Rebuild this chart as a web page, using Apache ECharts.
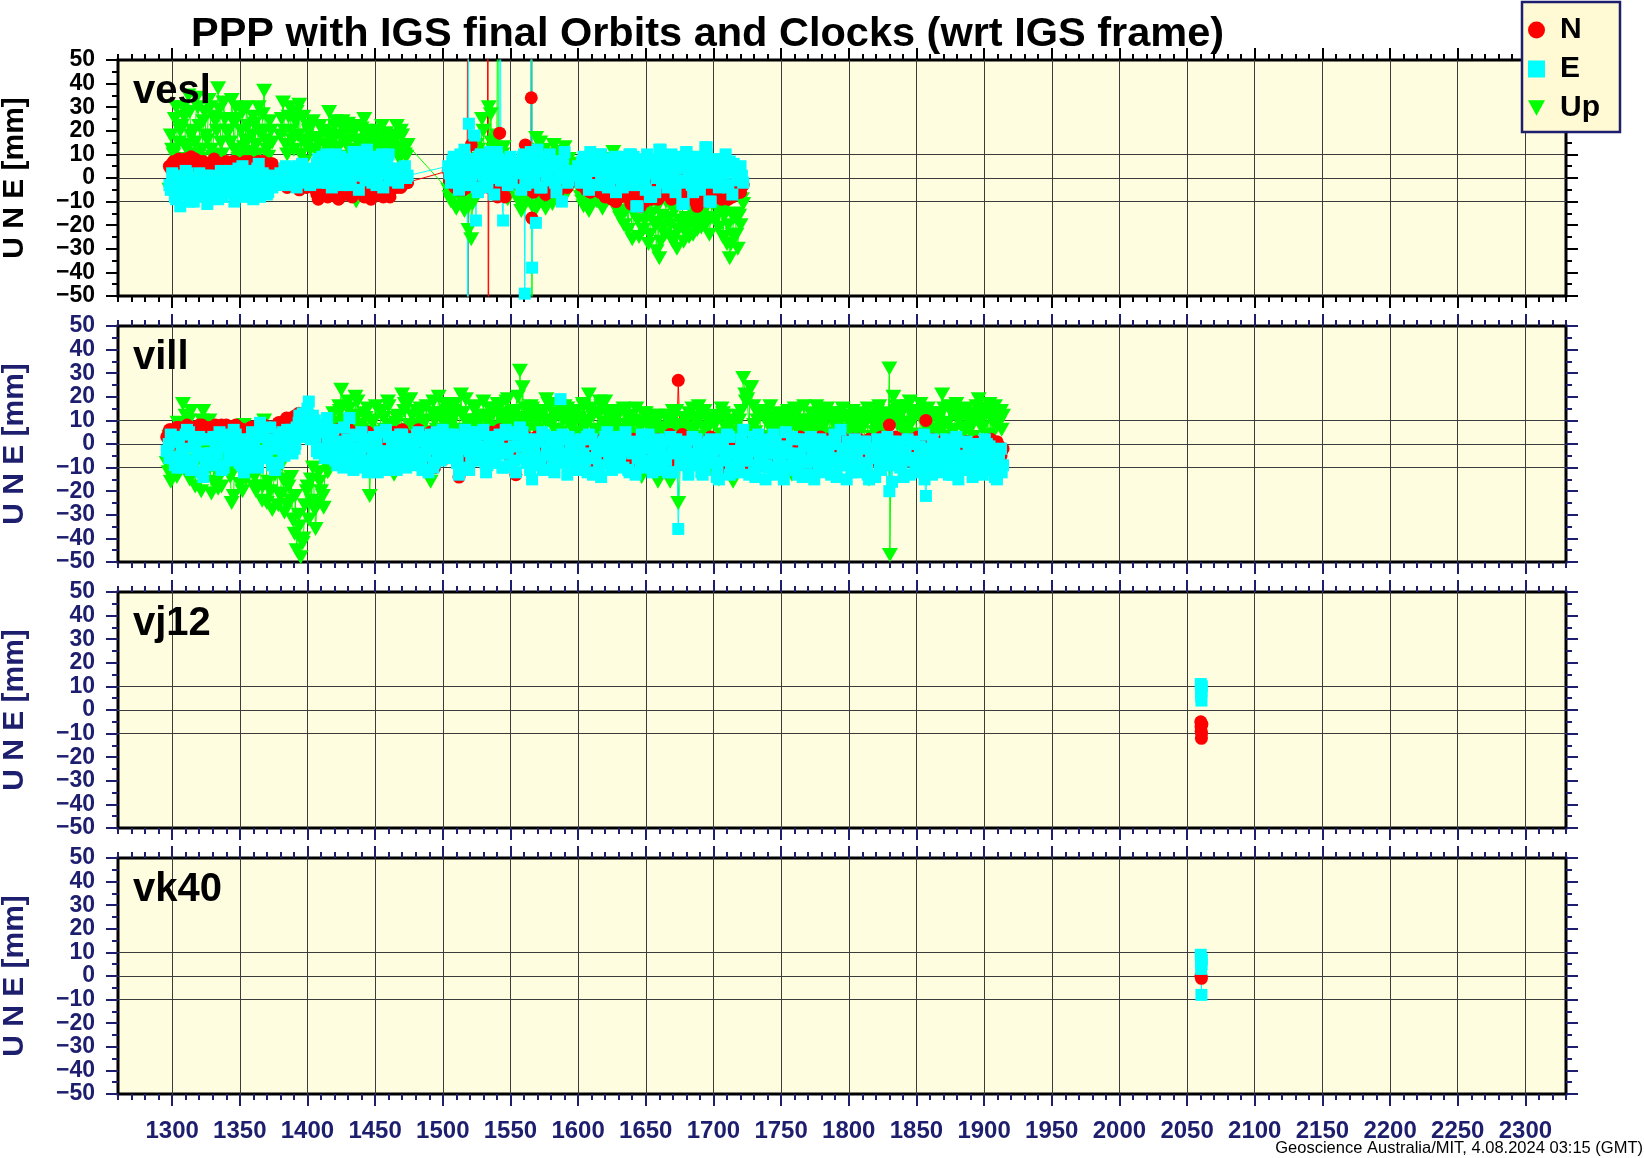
<!DOCTYPE html>
<html><head><meta charset="utf-8">
<script src="https://cdn.jsdelivr.net/npm/echarts@6/dist/echarts.min.js"></script>
<style>html,body{margin:0;padding:0;background:#fff}#c{width:1644px;height:1158px}</style>
</head><body><div id="c"></div>
<script>
// ---------- tick labels ----------
const xTicks = [1300,1350,1400,1450,1500,1550,1600,1650,1700,1750,1800,1850,1900,1950,2000,2050,2100,2150,2200,2250,2300];
const yGridLines = [-10, 0, 10];
const stationNames = ['vesl', 'vill', 'vj12', 'vk40'];

// ---------- vesl (set 1, even weeks) ----------
const veslWeeks = [
 1298,1300,1302,1304,1306,1308,1310,1312,1314,1316,1318,1320,1322,1324,1326,1328,1330,1332,1334,1336,1338,1340,
 1342,1344,1346,1348,1350,1352,1354,1356,1358,1360,1362,1364,1366,1368,1370,1372,1374,
 1380,1382,1384,1386,1388,1390,1392,1394,1396,1398,1400,1402,1404,
 1406,1408,1410,1412,1414,1416,1418,1420,1422,1424,1426,1428,1430,1432,1434,1436,1438,1440,1442,1444,1446,1448,1450,1452,1454,1456,1458,1460,1462,
 1464,1466,1468,1470,1472,1474,
 1504,1506,1508,1510,1512,1514,1516,1518,1520,1522,1524,1526,1528,1530,1532,1534,1536,1538,1540,1542,1544,1546,1548,1550,1552,
 1556,1558,1560,1562,1564,1566,1568,1570,1572,1574,1576,1578,1580,1582,1584,1586,1588,1590,1592,1594,
 1600,1602,1604,1606,1608,1610,1612,1614,1616,1618,1620,1622,1624,1626,1628,1630,1632,1634,1636,1638,
 1640,1642,1644,1646,1648,1650,1652,1654,1656,1658,1660,1662,1664,1666,1668,1670,1672,1674,1676,1678,
 1680,1682,1684,1686,1688,1690,1692,1694,1696,1698,1700,1702,1704,1706,1708,1710,1712,1714,1716,1718,1720,1722
];
const veslN = [
 5,6,3,7,4,6,8,5,9,6,4,7,5,6,3,6,5,7,4,6,5,7,
 6,4,7,5,3,6,7,4,5,6,3,7,5,4,6,5,6,
 3,1,-2,2,0,-3,1,-5,-1,2,-2,0,-4,
 -5,-9,-3,-6,-2,-4,-7,-3,-8,-5,-2,-6,-7,-4,-3,-5,-6,-2,-8,-4,-6,-3,-5,-7,-4,-8,-6,-3,-5,
 -2,-4,0,-3,-1,-2,
 3,0,-3,2,-5,-2,1,-4,0,2,-3,-1,1,-2,3,-4,0,2,-1,-3,1,-8,0,2,-2,
 2,-3,0,4,-5,1,-2,3,-4,0,-7,2,-1,-3,1,-5,0,-2,-4,-1,
 1,-3,2,-5,-1,-4,0,-3,-6,-2,-8,-4,-1,-7,-10,-3,-6,-2,-8,-5,
 -3,-9,-6,-12,-4,-7,-2,-9,-5,-3,-8,-4,-6,-2,-7,-3,-5,-8,-1,-6,
 -4,-7,-2,-8,-12,-5,-3,-7,-4,-6,-8,-3,-6,-9,-4,-7,-3,-8,-5,-2,-6,-3
];
const veslE = [
 -3,2,-8,0,-12,-4,3,-6,-1,-10,-2,2,-7,-3,-11,1,-5,-2,-9,3,-4,-6,
 3,-6,-10,0,-4,5,-8,-2,2,-9,-3,6,-5,1,-7,-1,-4,
 2,-3,5,0,-2,4,-4,1,6,-1,3,-3,2,
 3,8,-2,5,10,0,-4,6,2,9,-3,4,7,-1,11,3,-5,8,1,12,5,-2,9,0,6,-4,3,10,2,
 2,-1,4,0,5,1,
 5,-2,9,2,-5,6,12,0,-3,8,3,-6,10,1,-4,7,4,-7,11,2,-1,6,-3,9,3,
 6,-5,10,2,-2,8,0,12,-4,5,3,9,-1,7,-6,4,-10,11,-2,1,
 5,-2,9,1,-5,7,3,-3,10,0,6,-4,8,2,-6,5,-1,9,3,10,
 -3,6,-12,1,8,-5,4,-8,7,0,12,-2,5,-4,8,2,-6,6,-1,-11,
 11,3,-3,7,0,-5,5,13,-2,-10,6,1,-4,8,2,-3,7,-7,3,0,5,-2
];
const veslU = [
 -5,12,25,8,20,30,14,35,18,10,34,22,12,28,16,30,9,24,38,15,32,20,
 20,33,12,25,10,28,16,22,8,26,14,30,18,37,12,24,15,
 18,32,14,26,20,12,28,31,16,7,22,12,24,
 12,17,10,20,14,28,15,22,12,18,24,16,23,11,20,-10,14,21,25,15,18,-8,12,20,16,11,19,13,18,
 12,22,8,18,10,14,
 -5,-10,-3,-13,-7,-2,-14,-8,-4,-11,5,12,-2,20,8,-4,15,3,18,-6,10,2,-9,6,0,
 -10,-14,-6,12,-3,-12,8,-8,15,-5,-13,10,-2,14,-9,5,-4,13,-1,6,
 -2,-8,-12,-4,-14,-6,-1,-10,-3,-13,-5,-9,8,11,-4,-15,-7,-20,-10,-3,
 -26,-12,-18,-6,-22,-14,-28,-9,-19,-31,-34,-16,-24,-8,-20,-27,-13,-22,-5,-27,
 -17,-25,-10,-19,-22,-6,-14,-20,-9,-17,-4,-12,-21,-8,-16,-28,-34,-24,-15,-30,-20,-11
];
// ---------- vesl (set 2, odd weeks) ----------
const veslWeeks2 = [
 1299,1301,1303,1305,1307,1309,1311,1313,1315,1317,1319,1321,1323,1325,1327,1329,1331,1333,1335,1337,1339,
 1343,1345,1347,1349,1351,1353,1355,1357,1359,1361,1363,1365,1367,1369,1371,1373,
 1381,1383,1385,1387,1389,1391,1393,1395,1397,1399,1401,1403,
 1407,1409,1411,1413,1415,1417,1419,1421,1423,1425,1427,1429,1431,1433,1435,1437,1439,1441,1443,1445,1447,1449,1451,1453,1455,1457,1459,1461,1463,
 1465,1467,1469,1471,1473,
 1505,1507,1509,1511,1513,1515,1517,1519,1521,1523,1525,1527,1529,1531,1533,1535,1537,1539,1541,1543,1545,1547,1549,1551,
 1557,1559,1561,1563,1565,1567,1569,1571,1573,1575,1577,1579,1581,1583,1585,1587,1589,1591,1593,
 1601,1603,1605,1607,1609,1611,1613,1615,1617,1619,1621,1623,1625,1627,1629,1631,1633,1635,1637,1639,
 1641,1643,1645,1647,1649,1651,1653,1655,1657,1659,1661,1663,1665,1667,1669,1671,1673,1675,1677,1679,
 1681,1683,1685,1687,1689,1691,1693,1695,1697,1699,1701,1703,1705,1707,1709,1711,1713,1715,1717,1719,1721
];
const veslN2 = [
 4,7,5,8,3,6,7,4,6,8,5,3,7,5,6,4,8,5,6,4,6,
 5,7,3,6,5,4,6,7,3,5,6,4,7,5,3,6,
 0,2,-4,1,-2,3,-1,-3,1,-4,2,-2,
 -7,-4,-6,-2,-8,-5,-3,-6,-9,-4,-7,-3,-5,-8,-2,-6,-4,-7,-3,-5,-9,-4,-6,-2,-7,-5,-3,-8,-4,
 -3,-1,-4,0,-2,
 -1,2,-4,1,-2,-5,3,-1,1,-3,0,2,-4,-1,2,-2,1,-3,0,-5,2,-1,-3,1,
 -1,3,-4,2,-2,-6,1,-3,2,-1,-4,0,3,-2,-5,1,-3,0,-2,
 -2,1,-4,-1,-6,-2,-4,1,-5,-3,-6,-2,-9,-4,-5,-8,-1,-7,-3,-11,
 -6,-4,-8,-2,-10,-5,-7,-3,-6,-9,-4,-7,-3,-5,-9,-2,-6,-4,-8,-3,
 -5,-9,-6,-3,-7,-4,-10,-5,-2,-7,-5,-8,-4,-6,-2,-9,-5,-7,-4,-6,-3
];
const veslE2 = [
 -5,0,-9,1,-3,-7,2,-10,-2,-5,0,-8,-4,1,-9,-1,-6,0,-3,-8,-1,
 -2,1,-7,4,-5,-1,3,-6,0,-3,4,-8,2,-2,-6,1,
 -1,4,1,-3,3,0,5,-2,2,-1,4,0,
 6,1,9,3,-2,7,4,10,0,5,8,2,-3,6,9,1,4,11,-1,7,3,8,-3,5,10,2,6,-1,4,
 3,-2,1,4,0,
 2,7,-1,4,10,-3,3,8,1,6,-4,9,2,5,-2,11,0,4,8,-1,6,1,7,-2,
 2,9,-3,5,11,-1,6,3,-4,8,1,10,4,-2,7,0,6,3,-1,
 2,7,-1,4,11,3,-3,6,1,8,3,-2,5,9,0,7,-4,4,6,1,
 9,-3,3,6,-1,10,2,5,-6,8,3,-1,7,1,10,-3,4,9,-2,5,
 7,1,-6,9,3,-1,5,10,0,4,8,-1,5,2,10,-4,3,6,-1,4,1
];
const veslU2 = [
 18,10,30,15,22,26,12,28,20,15,30,8,24,18,33,12,26,20,29,10,25,
 15,24,30,8,20,13,30,11,18,23,10,20,27,16,9,20,
 25,20,10,30,16,24,18,10,26,14,20,17,
 16,22,8,14,19,11,17,24,13,9,20,15,12,18,22,8,16,13,20,11,15,19,9,14,22,12,17,10,15,
 16,10,20,13,9,
 -8,-2,-12,-6,-3,-9,-5,-12,0,3,14,8,25,4,10,-2,12,16,6,-4,13,-7,3,-5,
 -6,-11,2,-8,10,-4,-13,5,-9,12,-3,7,-11,9,-6,11,2,-7,8,
 -5,-10,-3,-12,-7,-9,-2,-6,-11,-8,4,-2,-10,-12,-8,-17,-5,-14,-22,-12,
 -15,-8,-25,-11,-18,-7,-24,-15,-20,-12,-27,-21,-10,-17,-25,-14,-30,-18,-11,-23,
 -20,-13,-24,-16,-8,-21,-17,-12,-24,-11,-18,-7,-14,-25,-12,-20,-28,-17,-24,-16,-9
];
// off-scale / isolated points [week, mm]
const veslSpikeN = [[1518.6,150],[1518.8,-150],[1521,14],[1533.4,150],[1533.6,-150],[1540.5,-8],[1542,19],[1561,14],[1565.4,34],[1565.6,150],[1565.8,-17],[1677,9]];
const veslSpikeE = [[1518.7,-150],[1518.9,150],[1519.3,23],[1523.5,18],[1524.5,-18],[1542.4,150],[1544.6,-18],[1560.6,-49],[1565.6,150],[1566.0,-38],[1568.8,-19],[1617,10],[1639,10],[1643,-12],[1653,-8],[1661,12],[1677,-11],[1680,11],[1695,13],[1697,-10]];
const veslSpikeU = [[1519,-22],[1521,-26],[1534,30],[1535.5,27],[1540.8,120],[1565.7,150],[1565.9,-150],[1569,17]];

// ---------- vill (set 1) ----------
const villWeeks = [
 1296,1299,1302,1305,1308,1311,1314,1317,1320,1323,
 1326,1329,1332,1335,1338,1341,1344,1347,1350,1353,
 1356,1359,1362,1365,1368,1371,1374,1377,1380,1383,
 1386,1389,1392,1395,1398,1401,1404,1407,1410,1413,
 1416,1419,1422,1425,1428,1431,1434,1437,1440,1443,
 1446,1449,1452,1455,1458,1461,1464,1467,1470,1473,
 1476,1479,1482,1485,1488,1491,1494,1497,1500,1503,
 1506,1509,1512,1515,1518,1521,1524,1527,1530,1533,
 1536,1539,1542,1545,1548,1551,1554,1557,1560,1563,
 1566,1569,1572,1575,1578,1581,1584,1587,1590,1593,
 1596,1599,1602,1605,1608,1611,1614,1617,1620,1623,
 1626,1629,1632,1635,1638,1641,1644,1647,1650,1653,
 1656,1659,1662,1665,1668,1671,1674,1677,1680,1683,
 1686,1689,1692,1695,1698,1701,1704,1707,1710,1713,
 1716,1719,1722,1725,1728,1731,1734,1737,1740,1743,
 1746,1749,1752,1755,1758,1761,1764,1767,1770,1773,
 1776,1779,1782,1785,1788,1791,1794,1797,1800,1803,
 1806,1809,1812,1815,1818,1821,1824,1827,1830,1833,
 1836,1839,1842,1845,1848,1851,1854,1857,1860,1863,
 1866,1869,1872,1875,1878,1881,1884,1887,1890,1893,
 1896,1899,1902,1905,1908,1911,1914
];
const villN = [
 3,6,0,7,4,8,2,6,8,5,
 6,3,8,5,7,2,6,8,4,6,
 5,7,3,6,8,4,7,5,9,6,
 10,7,12,9,13,10,6,8,4,2,
 4,-2,6,1,-4,6,0,-6,3,-3,
 -5,2,-8,4,-1,-6,5,-3,6,0,
 3,-2,6,-9,0,5,-10,2,-4,4,
 2,-3,-14,4,-2,1,-6,3,-1,-4,
 5,-4,6,5,-1,4,-13,2,-3,1,
 0,3,-5,2,-2,-8,1,-1,-6,2,
 -3,-7,1,-9,3,-2,-10,-4,0,2,
 -1,-6,3,-3,-9,2,-5,0,-8,1,
 -2,2,-7,0,4,-5,27,4,-3,-9,
 -4,1,-8,-2,3,-6,-1,2,-10,-5,
 -10,-9,-2,-11,1,-6,-3,2,-8,-4,
 0,-5,-3,2,-7,-1,3,-4,-9,1,
 -2,3,-6,-2,1,-4,4,-1,-7,2,
 -3,1,-8,2,-4,-1,3,-6,8,-2,
 -1,2,-5,0,-2,3,-6,10,-3,1,
 -2,0,-5,2,-3,0,-6,1,-2,-4,
 0,1,-3,2,-5,-1,-2
];
const villE = [
 -3,4,-9,1,-6,6,-11,-1,3,-14,
 2,-7,-2,5,-10,0,-5,4,-8,-12,
 -1,5,-6,9,-3,2,-9,0,4,-5,
 1,-4,7,3,10,18,12,-3,8,-6,
 -2,6,-9,0,-4,11,-11,-6,5,-1,
 -7,3,-12,-3,6,-8,1,-5,4,-10,
 2,-6,5,-11,-2,4,-8,0,6,-4,
 -3,3,-13,-1,5,-7,2,-4,6,-9,
 1,-6,4,-10,-2,5,-12,7,0,-5,
 -15,2,-7,4,-3,-10,1,19,-4,3,
 -5,-11,2,-7,4,-13,-2,-14,3,-6,
 2,-9,-3,5,-12,-1,-6,4,-10,1,
 -4,2,-11,-7,3,-3,-36,-8,1,-5,
 -9,0,-13,-4,2,-8,-15,-2,4,-10,
 -3,-12,6,-7,0,-14,-5,2,-10,-2,
 1,-8,-15,-4,3,-11,-6,-1,-13,-3,
 -7,2,-12,-5,0,-14,6,-3,-9,-1,
 -4,-10,1,-15,-6,2,-11,-3,-20,1,
 1,-8,-4,-13,0,-6,-11,-22,-2,-9,
 -4,-12,2,-8,-1,-15,-5,1,-11,-6,
 -3,-13,0,-8,-14,-4,-9
];
const villU = [
 -8,-16,5,-12,17,-4,14,-18,0,14,
 -6,-21,3,-14,-9,6,-25,-3,-17,8,
 -12,2,-20,-7,10,-16,-28,-4,-22,-29,
 -18,-32,-45,-48,-26,-32,-10,-25,-20,-8,
 -11,13,4,23,8,15,-2,18,6,11,
 -22,10,2,14,-5,8,-13,12,21,4,
 19,7,12,-1,16,-16,10,20,4,14,
 8,17,3,13,0,10,15,5,18,9,
 12,4,16,8,19,2,14,31,10,6,
 15,6,11,1,17,9,13,5,16,10,
 8,14,2,7,21,12,4,16,18,9,
 5,12,0,14,7,10,-3,-14,13,6,
 9,-16,4,12,-16,7,-25,2,10,5,
 6,16,1,11,-1,8,-15,13,3,9,
 3,10,28,19,24,5,12,1,14,8,
 6,11,2,14,-13,9,4,16,-13,7,
 16,5,10,2,13,7,11,0,9,14,
 4,12,1,-15,9,14,6,10,32,20,
 8,13,4,18,11,2,14,7,12,5,
 10,21,3,14,6,12,1,15,8,11,
 19,7,13,3,16,9,12
];
// ---------- vill (set 2) ----------
const villWeeks2 = [
 1297.5,1300.5,1303.5,1306.5,1309.5,1312.5,1315.5,1318.5,1321.5,1324.5,
 1327.5,1330.5,1333.5,1336.5,1339.5,1342.5,1345.5,1348.5,1351.5,1354.5,
 1357.5,1360.5,1363.5,1366.5,1369.5,1372.5,1375.5,1378.5,1381.5,1384.5,
 1387.5,1390.5,1393.5,1396.5,1399.5,1402.5,1405.5,1408.5,1411.5,1414.5,
 1417.5,1420.5,1423.5,1426.5,1429.5,1432.5,1435.5,1438.5,1441.5,1444.5,
 1447.5,1450.5,1453.5,1456.5,1459.5,1462.5,1465.5,1468.5,1471.5,1474.5,
 1477.5,1480.5,1483.5,1486.5,1489.5,1492.5,1495.5,1498.5,1501.5,1504.5,
 1507.5,1510.5,1513.5,1516.5,1519.5,1522.5,1525.5,1528.5,1531.5,1534.5,
 1537.5,1540.5,1543.5,1546.5,1549.5,1552.5,1555.5,1558.5,1561.5,1564.5,
 1567.5,1570.5,1573.5,1576.5,1579.5,1582.5,1585.5,1588.5,1591.5,1594.5,
 1597.5,1600.5,1603.5,1606.5,1609.5,1612.5,1615.5,1618.5,1621.5,1624.5,
 1627.5,1630.5,1633.5,1636.5,1639.5,1642.5,1645.5,1648.5,1651.5,1654.5,
 1657.5,1660.5,1663.5,1666.5,1669.5,1672.5,1675.5,1678.5,1681.5,1684.5,
 1687.5,1690.5,1693.5,1696.5,1699.5,1702.5,1705.5,1708.5,1711.5,1714.5,
 1717.5,1720.5,1723.5,1726.5,1729.5,1732.5,1735.5,1738.5,1741.5,1744.5,
 1747.5,1750.5,1753.5,1756.5,1759.5,1762.5,1765.5,1768.5,1771.5,1774.5,
 1777.5,1780.5,1783.5,1786.5,1789.5,1792.5,1795.5,1798.5,1801.5,1804.5,
 1807.5,1810.5,1813.5,1816.5,1819.5,1822.5,1825.5,1828.5,1831.5,1834.5,
 1837.5,1840.5,1843.5,1846.5,1849.5,1852.5,1855.5,1858.5,1861.5,1864.5,
 1867.5,1870.5,1873.5,1876.5,1879.5,1882.5,1885.5,1888.5,1891.5,1894.5,
 1897.5,1900.5,1903.5,1906.5,1909.5,1912.5
];
const villN2 = [
 5,4,7,3,6,5,7,4,6,7,
 7,5,4,8,6,3,7,5,6,4,
 6,4,8,5,7,3,6,9,7,11,
 11,8,13,10,7,9,5,3,6,1,
 2,-5,4,-1,-3,3,-6,1,-2,5,
 -2,-7,1,-4,3,-8,0,-5,2,-3,
 -4,1,-6,3,-1,-7,2,-3,0,-5,
 -2,1,-5,3,-8,0,4,-4,2,-6,
 3,-2,5,1,-4,2,-6,0,3,-3,
 -3,1,4,-6,0,2,-4,3,-1,-7,
 0,-4,2,-6,-1,1,-5,2,-3,-8,
 -4,1,-6,2,-2,-7,0,-3,2,-5,
 0,-3,1,-6,2,-4,-1,1,-5,-2,
 0,-5,-2,2,-7,-3,1,-6,-10,-1,
 -9,-5,-10,-3,-7,0,-5,-2,1,-6,
 -3,1,-6,-2,2,-5,-1,-8,0,-3,
 1,-4,2,-6,-1,3,-5,0,-2,-7,
 2,-5,0,-3,-7,1,-4,-1,-2,3,
 -3,1,-7,2,-4,-1,2,-5,0,-3,
 1,-4,-1,-6,2,-3,0,-2,-5,1,
 -2,-4,0,-3,1,-5
];
const villE2 = [
 0,-6,3,-10,-2,5,-7,2,-12,-4,
 -8,3,-4,-11,1,-6,6,-3,-9,2,
 -6,0,-10,3,-4,7,-2,-8,5,-1,
 4,-2,9,13,6,2,10,-4,5,11,
 3,-7,-1,-10,2,-5,4,-9,0,-12,
 0,-9,5,-5,-11,2,-7,4,-2,-8,
 -9,1,-4,3,-12,-1,5,-7,-3,4,
 4,-8,-2,6,-11,0,-5,4,-8,3,
 -8,3,-3,6,-9,-1,4,-6,2,-11,
 -2,-9,5,-5,2,-12,-3,4,-8,0,
 1,-4,-9,3,-6,0,-11,-3,5,-8,
 -6,3,-10,-2,1,-13,-4,2,-7,-1,
 0,-8,1,-12,-4,2,-9,-2,-13,3,
 2,-6,-11,1,-4,-14,-1,-7,3,-12,
 -8,2,-5,-13,3,-9,-1,-15,-4,4,
 -10,-2,5,-9,-5,-13,2,-7,-1,-15,
 -3,-10,1,-8,4,-6,-2,-15,-5,2,
 -12,-2,-8,-4,-14,-1,-7,3,-9,-5,
 -5,-14,2,-6,-10,-1,4,-4,-13,0,
 -9,-1,-6,-13,3,-7,-10,-2,-14,0,
 -7,2,-11,-5,-15,-2
];
const villU2 = [
 -12,2,-14,8,-8,10,-10,4,-20,-6,
 10,-16,-4,-18,2,-12,-22,-8,4,-15,
 -5,-18,-10,-24,-2,-20,-12,-26,-8,-16,
 -24,-38,-30,-42,-20,-15,-28,-12,-22,-5,
 6,-5,16,10,2,12,20,8,-3,15,
 5,16,-6,11,18,3,9,-8,14,6,
 12,3,15,9,-4,13,6,11,17,2,
 14,6,21,10,3,16,8,12,2,15,
 5,17,10,13,4,11,20,8,15,12,
 8,14,3,19,10,6,16,12,2,13,
 12,4,17,10,15,6,13,9,3,14,
 10,3,15,8,12,4,9,13,1,11,
 4,12,7,-2,10,14,5,11,2,15,
 11,3,14,7,-12,10,4,12,8,-16,
 9,14,21,4,16,10,2,13,7,11,
 13,2,8,11,1,14,6,10,3,12,
 8,14,4,12,1,9,15,6,11,3,
 13,7,-2,11,5,16,3,12,9,14,
 12,5,16,9,14,3,10,15,6,11,
 6,15,9,2,17,11,5,13,8,16,
 10,15,4,12,8,14
];
// ---------- vill (set 3) ----------
const villWeeks3 = [
 1298,1301,1304,1307,1310,1313,1316,1319,1322,1325,
 1328,1331,1334,1337,1340,1343,1346,1349,1352,1355,
 1358,1361,1364,1367,1370,1373,1376,1379,1382,1385,
 1388,1391,1394,1397,1400,1403,1406,1409,1412,1415,
 1418,1421,1424,1427,1430,1433,1436,1439,1442,1445,
 1448,1451,1454,1457,1460,1463,1466,1469,1472,1475,
 1478,1481,1484,1487,1490,1493,1496,1499,1502,1505,
 1508,1511,1514,1517,1520,1523,1526,1529,1532,1535,
 1538,1541,1544,1547,1550,1553,1556,1559,1562,1565,
 1568,1571,1574,1577,1580,1583,1586,1589,1592,1595,
 1598,1601,1604,1607,1610,1613,1616,1619,1622,1625,
 1628,1631,1634,1637,1640,1643,1646,1649,1652,1655,
 1658,1661,1664,1667,1670,1673,1676,1679,1682,1685,
 1688,1691,1694,1697,1700,1703,1706,1709,1712,1715,
 1718,1721,1724,1727,1730,1733,1736,1739,1742,1745,
 1748,1751,1754,1757,1760,1763,1766,1769,1772,1775,
 1778,1781,1784,1787,1790,1793,1796,1799,1802,1805,
 1808,1811,1814,1817,1820,1823,1826,1829,1832,1835,
 1838,1841,1844,1847,1850,1853,1856,1859,1862,1865,
 1868,1871,1874,1877,1880,1883,1886,1889,1892,1895,
 1898,1901,1904,1907,1910,1913
];
const villN3 = [
 6,4,7,5,3,7,6,4,8,5,
 4,7,6,3,8,5,4,7,6,5,
 7,5,6,8,4,6,7,9,8,10,
 9,12,10,11,8,12,7,5,4,3,
 -2,3,-4,1,-5,2,-1,4,-3,0,
 1,-4,3,-6,0,-2,2,-7,4,-1,
 1,-5,-2,2,-7,0,-4,1,-6,2,
 -4,2,-9,-1,1,-5,-2,3,-3,0,
 0,4,-3,2,-6,1,-2,5,-5,-1,
 -1,-5,2,-3,-7,0,2,-2,-4,1,
 -5,1,-3,-8,0,-6,-2,1,-4,-1,
 -3,-7,0,-4,1,-8,-2,-6,-1,0,
 -6,1,-3,-8,-1,2,-4,-2,-7,0,
 -7,-2,-4,0,-5,-9,-1,-3,-6,-8,
 -6,-11,-3,-8,-5,-1,-9,-4,-2,-7,
 -4,-7,1,-2,-6,0,-3,-5,2,-8,
 -3,0,-5,1,-4,-2,2,-6,-1,0,
 0,-6,1,-4,-2,-5,2,-3,-1,-6,
 -5,0,-2,-6,1,-4,-1,-3,2,-5,
 -1,-3,0,-5,-2,1,-4,-1,-3,0,
 -1,0,-4,-2,0,-3
];
const villE3 = [
 -6,1,-10,-3,4,-8,0,-5,2,-9,
 -4,2,-9,-1,4,-7,-3,1,-6,-10,
 2,-8,-3,5,-6,0,-11,3,-4,6,
 6,0,12,4,15,8,3,-2,7,0,
 -6,1,-3,7,-8,-2,3,-5,-10,2,
 -4,1,-9,-6,3,-3,-11,0,-5,2,
 -2,4,-9,-5,1,-10,-3,3,-6,0,
 0,-5,-10,2,-3,-7,5,-1,-12,-4,
 -3,2,-10,-4,4,-7,-1,5,-8,-2,
 -6,1,-11,-2,3,-8,-5,2,-13,-1,
 -8,0,-4,-12,2,-6,-9,1,-3,-11,
 -1,-7,3,-11,-4,0,-9,-2,4,-12,
 -9,-2,-6,1,-12,-3,-5,0,-8,-4,
 -5,-12,0,-8,-2,-10,2,-6,-13,-3,
 -11,0,-7,-3,-12,4,-6,-9,-1,-13,
 -6,-12,-1,-10,2,-4,-14,-8,3,-6,
 -11,-1,-6,-13,3,-9,-4,1,-12,-7,
 -8,1,-13,-5,-2,-10,0,-6,-16,-3,
 -10,-3,-7,1,-12,-5,-15,-8,2,-6,
 -2,-8,-13,-4,1,-11,-6,-1,-9,-12,
 -5,-11,-1,-9,-6,-12
];
const villU3 = [
 3,-10,9,-2,12,-15,6,-7,10,-3,
 -10,4,-19,-6,-1,-14,-9,2,-20,-4,
 -8,-14,-3,-18,-25,-6,-13,-21,-15,-26,
 -14,-22,-35,-40,-18,-24,-36,-16,-27,-12,
 -4,9,14,3,18,7,11,-1,13,5,
 9,-4,13,6,16,0,11,3,17,8,
 8,14,-2,10,5,18,13,1,9,16,
 11,4,13,19,7,15,10,1,12,6,
 15,7,12,18,9,14,5,24,11,16,
 11,4,14,9,17,12,3,10,15,7,
 5,11,16,9,13,3,18,7,12,10,
 8,14,6,11,2,15,7,12,9,4,
 12,6,2,9,14,-6,8,4,13,7,
 9,13,6,-4,12,2,15,7,10,5,
 12,5,18,24,8,14,3,10,16,6,
 9,4,12,7,15,-2,10,5,13,8,
 11,7,15,4,10,13,2,12,6,9,
 7,10,15,3,12,8,13,6,11,16,
 9,15,7,12,4,17,8,10,13,6,
 13,8,16,5,11,14,7,10,3,12,
 7,13,17,9,11,6
];
const villSpikeU = [[1830.4,-47]];

// ---------- vj12 / vk40 [week, mm] ----------
const vj12N = [[2060.1,-5],[2060.3,-7],[2060.4,-9],[2060.6,-12],[2060.7,-10],[2060.9,-6]];
const vj12E = [[2060.1,11],[2060.3,9],[2060.4,6],[2060.6,4],[2060.7,8],[2060.9,10]];
const vj12U = [];
const vk40N = [[2060.3,0],[2060.6,-1]];
const vk40E = [[2060.1,9],[2060.3,6],[2060.4,3],[2060.6,-8],[2060.7,5],[2060.9,7]];
const vk40U = [];

// ---------- build ----------
function pairs(weeks, vals) {
  const n = Math.min(weeks.length, vals.length), out = [];
  for (let i = 0; i < n; i++) out.push([weeks[i], vals[i]]);
  return out;
}
function combine() {
  let all = [];
  for (let i = 0; i < arguments.length; i++) all = all.concat(arguments[i]);
  return all.sort((a, b) => a[0] - b[0]);
}
const panelData = [
  { N: combine(pairs(veslWeeks, veslN), pairs(veslWeeks2, veslN2), veslSpikeN),
    E: combine(pairs(veslWeeks, veslE), pairs(veslWeeks2, veslE2), veslSpikeE),
    U: combine(pairs(veslWeeks, veslU), pairs(veslWeeks2, veslU2), veslSpikeU) },
  { N: combine(pairs(villWeeks, villN), pairs(villWeeks2, villN2), pairs(villWeeks3, villN3)),
    E: combine(pairs(villWeeks, villE), pairs(villWeeks2, villE2), pairs(villWeeks3, villE3)),
    U: combine(pairs(villWeeks, villU), pairs(villWeeks2, villU2), pairs(villWeeks3, villU3), villSpikeU) },
  { N: vj12N, E: vj12E, U: vj12U },
  { N: vk40N, E: vk40E, U: vk40U }
];

const FONT = '"Liberation Sans", Arial, Helvetica, sans-serif';
const NAVY = '#1e1e6e';
const BG = '#fffde0';
const GRIDLINE = '#3c3c3c';
const gridLeft = 118, gridWidth = 1448, gridH = 236;
const gridTops = [60, 326, 592, 858];
const tickColors = ['#000', NAVY, NAVY, NAVY];
const downTri = 'path://M0,0L10,0L5,9Z';
const COL = { N: '#ff0000', E: '#00ffff', Up: '#00ff00' };

const grid = [], xAxis = [], yAxis = [], series = [];
const titles = [{
  text: 'PPP with IGS final Orbits and Clocks (wrt IGS frame)', left: 191, top: 14, padding: 0,
  textStyle: { fontSize: 41.5, fontWeight: 'bold', color: '#000', fontFamily: FONT }
}];

gridTops.forEach((top, g) => {
  const tc = tickColors[g];
  grid.push({ left: gridLeft, top: top, width: gridWidth, height: gridH, show: true,
    outerBoundsMode: 'none', containLabel: false,
    backgroundColor: BG, borderColor: '#000', borderWidth: 3 });
  const xb = { gridIndex: g, type: 'value', min: 1260, max: 2330,
    axisLine: { show: false, onZero: false }, splitLine: { show: false }, axisLabel: { show: false } };
  xAxis.push(Object.assign({}, xb, { position: 'bottom',
    axisTick: { show: true, length: 12, customValues: xTicks, lineStyle: { color: tc, width: 2 } },
    axisLabel: { show: g === 3, customValues: xTicks, margin: 25, color: NAVY, fontSize: 24, fontWeight: 'bold', fontFamily: FONT,
      formatter: v => String(v) },
    splitLine: { show: true, lineStyle: { color: GRIDLINE, width: 1 } } }));
  xAxis.push(Object.assign({}, xb, { position: 'bottom', interval: 10,
    axisTick: { show: true, length: 6, lineStyle: { color: tc, width: 2 } } }));
  xAxis.push(Object.assign({}, xb, { position: 'top',
    axisTick: { show: true, length: 12, customValues: xTicks, lineStyle: { color: tc, width: 2 } } }));
  xAxis.push(Object.assign({}, xb, { position: 'top', interval: 10,
    axisTick: { show: true, length: 6, lineStyle: { color: tc, width: 2 } } }));

  const yb = { gridIndex: g, type: 'value', min: -50, max: 50, interval: 10,
    axisLine: { show: false, onZero: false }, splitLine: { show: false } };
  yAxis.push(Object.assign({}, yb, { position: 'left',
    axisTick: { show: true, length: 12, lineStyle: { color: tc, width: 2 } },
    minorTick: { show: true, splitNumber: 2, length: 6, lineStyle: { color: tc, width: 2 } },
    axisLabel: { margin: 23, color: tc, fontSize: 23, fontWeight: 'bold', fontFamily: FONT,
      formatter: v => String(v).replace('-', '\u2212') },
    name: 'U N E [mm]', nameLocation: 'middle', nameRotate: 90, nameGap: 88,
    nameTextStyle: { fontSize: 30, fontWeight: 'bold', color: tc, fontFamily: FONT } }));
  yAxis.push(Object.assign({}, yb, { position: 'right',
    axisTick: { show: true, length: 12, lineStyle: { color: tc, width: 2 } },
    minorTick: { show: true, splitNumber: 2, length: 6, lineStyle: { color: tc, width: 2 } },
    axisLabel: { show: false } }));
  yAxis.push({ gridIndex: g, type: 'value', min: -50, max: 50, position: 'left',
    axisLine: { show: false, onZero: false },
    axisTick: { show: false, customValues: yGridLines }, axisLabel: { show: false },
    splitLine: { show: true, lineStyle: { color: GRIDLINE, width: 1 } } });

  const d = panelData[g];
  const mk = (name, data, symbol, size) => ({
    type: 'line', name: name, xAxisIndex: g * 4, yAxisIndex: g * 3, data: data,
    symbol: symbol, symbolSize: size, showSymbol: true, showAllSymbol: true,
    itemStyle: { color: COL[name] }, lineStyle: { color: COL[name], width: 1 },
    emphasis: { disabled: true }, clip: true, animation: false
  });
  series.push(mk('Up', d.U, downTri, [16, 14]));
  series.push(mk('N', d.N, 'circle', 13));
  series.push(mk('E', d.E, 'rect', 12));

  titles.push({ text: stationNames[g], left: 133, top: top + 12, padding: 0,
    textStyle: { fontSize: 40, fontWeight: 'bold', color: '#000', fontFamily: FONT } });
});
titles.push({ text: 'Geoscience Australia/MIT, 4.08.2024 03:15 (GMT)', right: 1, bottom: 1, padding: 0,
  textStyle: { fontSize: 16.5, fontWeight: 'normal', color: '#000', fontFamily: FONT } });

const chart = echarts.init(document.getElementById('c'), null, { renderer: 'canvas' });
chart.setOption({
  backgroundColor: '#ffffff',
  animation: false,
  textStyle: { fontFamily: FONT },
  title: titles,
  legend: {
    data: [{ name: 'N', icon: 'circle' }, { name: 'E', icon: 'rect' }, { name: 'Up', icon: downTri }],
    orient: 'vertical', left: 1522, top: 2,
    padding: [13, 20, 9, 6], itemGap: 9, itemWidth: 17, itemHeight: 17,
    backgroundColor: '#fffad4', borderColor: NAVY, borderWidth: 2.5,
    selectedMode: false,
    textStyle: { fontSize: 30, fontWeight: 'bold', color: '#000', padding: [0, 0, 0, 10], fontFamily: FONT }
  },
  grid: grid, xAxis: xAxis, yAxis: yAxis, series: series
});
</script>
</body></html>
